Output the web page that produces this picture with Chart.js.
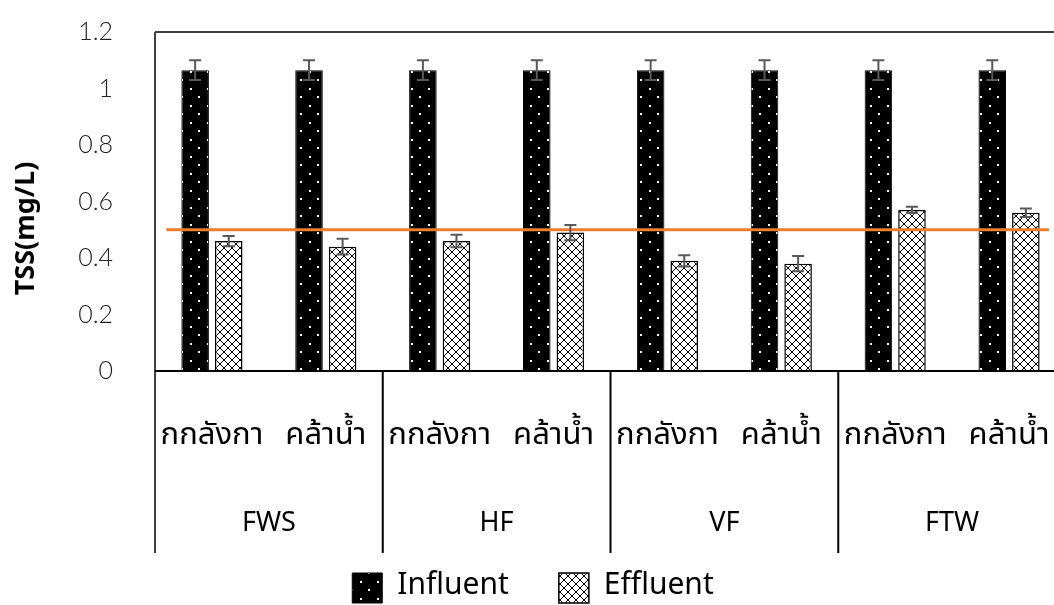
<!DOCTYPE html>
<html>
<head>
<meta charset="utf-8">
<script src="https://cdn.jsdelivr.net/npm/chart.js@4.4.1/dist/chart.umd.min.js"></script>
<style>
  html, body { margin: 0; padding: 0; background: #fff; overflow: hidden; }
  /* the plot runs a little past the right edge of the picture, as in the original */
  #wrap { width: 1066px; height: 605px; position: relative; }
</style>
</head>
<body>
<div id="wrap"><canvas id="chart"></canvas></div>
<script>
// Data
const plants = ["กกลังกา", "คล้าน้ำ", "กกลังกา", "คล้าน้ำ", "กกลังกา", "คล้าน้ำ", "กกลังกา", "คล้าน้ำ"];
const systems = ["FWS", "HF", "VF", "FTW"];
const influent = [1.065, 1.065, 1.065, 1.065, 1.065, 1.065, 1.065, 1.065];
const influentErr = [0.035, 0.035, 0.035, 0.035, 0.035, 0.035, 0.035, 0.035];
const effluent = [0.46, 0.44, 0.46, 0.49, 0.39, 0.38, 0.57, 0.56];
const effluentErr = [0.018, 0.028, 0.022, 0.027, 0.02, 0.027, 0.011, 0.015];
const yTicks = [0, 0.2, 0.4, 0.6, 0.8, 1, 1.2];
const standardLimit = 0.5;
// start / end of the standard line, in category units
const limitSpan = [-0.4, 7.35];

const FONT = "'Noto Sans Thai', 'Noto Sans', 'DejaVu Sans', sans-serif";

// Dotted fill for influent bars
function dotPattern() {
  const c = document.createElement("canvas");
  c.width = 17;
  c.height = 17;
  const g = c.getContext("2d");
  g.fillStyle = "#000";
  g.fillRect(0, 0, 17, 17);
  g.fillStyle = "#fff";
  g.fillRect(3, 3, 2, 2);
  g.fillRect(11, 11, 2, 2);
  return g.createPattern(c, "repeat");
}

// Diagonal cross-hatch for effluent bars
function hatchPattern() {
  const c = document.createElement("canvas");
  c.width = 8;
  c.height = 8;
  const g = c.getContext("2d");
  g.fillStyle = "#fff";
  g.fillRect(0, 0, 8, 8);
  g.strokeStyle = "#000";
  g.lineWidth = 1;
  g.beginPath();
  g.moveTo(0, 0);
  g.lineTo(8, 8);
  g.moveTo(8, 0);
  g.lineTo(0, 8);
  g.stroke();
  return g.createPattern(c, "repeat");
}

// Standard limit line (orange), above the bars
const limitLine = {
  id: "limitLine",
  afterDatasetsDraw(chart) {
    const { ctx, scales } = chart;
    const y = scales.y.getPixelForValue(standardLimit);
    ctx.save();
    ctx.strokeStyle = "#ED7D31";
    ctx.lineWidth = 3;
    ctx.beginPath();
    ctx.moveTo(scales.x.getPixelForValue(limitSpan[0]), y);
    ctx.lineTo(scales.x.getPixelForValue(limitSpan[1]), y);
    ctx.stroke();
    ctx.restore();
  },
};

// Error bars drawn from the y scale
const errorBars = {
  id: "errorBars",
  afterDatasetsDraw(chart) {
    const { ctx, scales } = chart;
    ctx.save();
    ctx.strokeStyle = "#595959";
    ctx.lineWidth = 2;
    chart.data.datasets.forEach((ds, i) => {
      if (!ds.errors) return;
      const meta = chart.getDatasetMeta(i);
      meta.data.forEach((bar, j) => {
        const v = ds.data[j];
        const e = ds.errors[j];
        const top = scales.y.getPixelForValue(v + e);
        const bot = scales.y.getPixelForValue(v - e);
        ctx.beginPath();
        ctx.moveTo(bar.x, top);
        ctx.lineTo(bar.x, bot);
        ctx.moveTo(bar.x - 6, top);
        ctx.lineTo(bar.x + 6, top);
        ctx.moveTo(bar.x - 6, bot);
        ctx.lineTo(bar.x + 6, bot);
        ctx.stroke();
      });
    });
    ctx.restore();
  },
};

// Frame: top border, left axis extension and group dividers
const frame = {
  id: "frame",
  afterDraw(chart) {
    const { ctx, chartArea, scales } = chart;
    const bottom = scales.x2.bottom;
    ctx.save();
    ctx.strokeStyle = "#404040";
    ctx.lineWidth = 2;
    ctx.beginPath();
    ctx.moveTo(chartArea.left, chartArea.top);
    ctx.lineTo(chart.width, chartArea.top);
    ctx.moveTo(chartArea.left, chartArea.top);
    ctx.lineTo(chartArea.left, bottom);
    ctx.stroke();
    ctx.strokeStyle = "#000";
    ctx.beginPath();
    ctx.moveTo(chartArea.left, chartArea.bottom);
    ctx.lineTo(chart.width, chartArea.bottom);
    for (let i = 1; i < systems.length; i++) {
      const x = (scales.x.getPixelForValue(2 * i - 1) + scales.x.getPixelForValue(2 * i)) / 2;
      ctx.moveTo(x, chartArea.bottom);
      ctx.lineTo(x, bottom);
    }
    ctx.stroke();
    ctx.restore();
  },
};

function initializeChart() {
  const ctx = document.getElementById("chart").getContext("2d");

  new Chart(ctx, {
    type: "bar",
    data: {
      labels: plants,
      datasets: [
        {
          label: "Influent",
          data: influent,
          errors: influentErr,
          backgroundColor: dotPattern(),
          borderColor: "#000",
          borderWidth: 1,
          categoryPercentage: 0.59,
          barPercentage: 0.82,
        },
        {
          label: "Effluent",
          data: effluent,
          errors: effluentErr,
          backgroundColor: hatchPattern(),
          borderColor: "#000",
          borderWidth: 1.5,
          categoryPercentage: 0.59,
          barPercentage: 0.82,
        },
      ],
    },
    options: {
      responsive: true,
      maintainAspectRatio: false,
      animation: false,
      layout: { padding: { top: 32, right: 0, left: 0, bottom: -8 } },
      plugins: {
        tooltip: { enabled: false },
        legend: {
          position: "bottom",
          labels: {
            boxWidth: 30,
            boxHeight: 30,
            padding: 20,
            color: "#000",
            font: { family: FONT, size: 30 },
            generateLabels: (chart) =>
              Chart.defaults.plugins.legend.labels
                .generateLabels(chart)
                .map((item, i) => {
                  if (i === 0) item.text = item.text + "\u2003";
                  return item;
                }),
          },
        },
      },
      scales: {
        y: {
          min: 0,
          max: 1.2,
          afterBuildTicks: (scale) => {
            scale.ticks = yTicks.map((v) => ({ value: v }));
          },
          afterFit: (scale) => {
            scale.width = 155;
          },
          grid: { display: false, drawTicks: true, tickLength: 40 },
          border: { display: false },
          ticks: {
            padding: 2,
            color: "#222",
            font: { family: "Lato, 'Noto Sans', sans-serif", size: 25, weight: 300 },
            callback: (v) => String(v),
          },
          title: {
            display: true,
            text: "TSS(mg/L)\u2003\u2003",
            color: "#000",
            padding: { top: 12, bottom: 0 },
            font: { family: FONT, size: 27, weight: "bold" },
          },
        },
        x: {
          position: "bottom",
          offset: true,
          afterFit: (scale) => {
            scale.height = 100;
          },
          grid: { display: false, drawTicks: true, tickLength: 48, offset: true },
          border: { display: false },
          ticks: {
            padding: 0,
            maxRotation: 0,
            autoSkip: false,
            color: "#000",
            font: { family: FONT, size: 31 },
          },
        },
        x2: {
          type: "category",
          labels: systems,
          position: "bottom",
          offset: true,
          afterFit: (scale) => {
            scale.height = 82;
          },
          grid: { display: false, drawTicks: true, tickLength: 38 },
          border: { display: false },
          ticks: {
            padding: 0,
            color: "#000",
            font: { family: FONT, size: 27 },
          },
        },
      },
    },
    plugins: [limitLine, errorBars, frame],
  });
}

document.addEventListener("DOMContentLoaded", initializeChart);
</script>
</body>
</html>
